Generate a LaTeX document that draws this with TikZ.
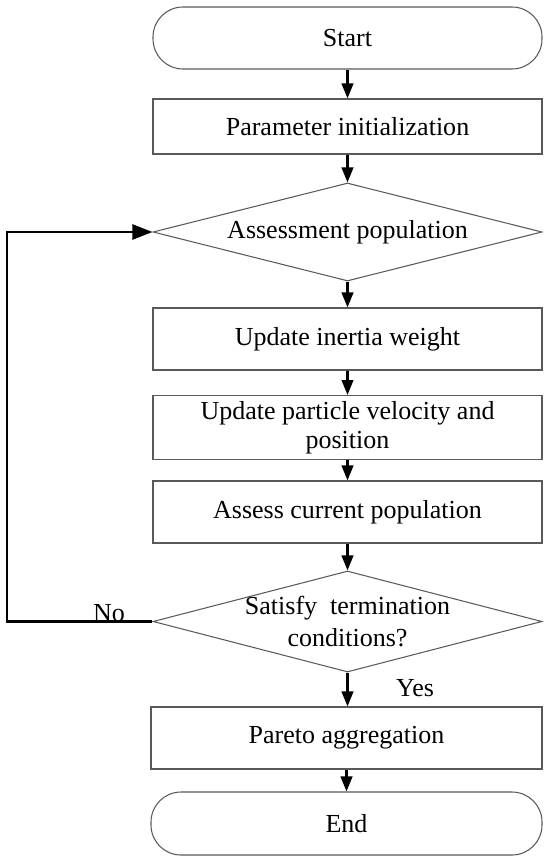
\documentclass[tikz,border=0pt]{standalone}
\usepackage{fontspec}
\setmainfont{Liberation Serif}
\usepackage{tikz}
\usetikzlibrary{arrows.meta,positioning,shapes.geometric}

\begin{document}
\begin{tikzpicture}[
  >={Triangle[length=0.3cm,width=0.23cm]},
  term/.style={draw=black!65, line width=0.6pt, rounded corners=0.6cm,
    minimum width=7.78cm, minimum height=1.24cm, font=\fontsize{14.8}{17}\selectfont},
  proc/.style={draw=black!65, line width=0.6pt, minimum width=7.78cm,
    minimum height=1.24cm, align=center, font=\fontsize{14.8}{16.3}\selectfont},
  decision/.style={draw=black!65, line width=0.6pt, diamond, inner sep=0pt,
    minimum width=7.78cm, minimum height=1.96cm},
  dtext/.style={align=center, font=\fontsize{14.8}{18.2}\selectfont},
  arr/.style={->, line width=1.4pt},
  back/.style={-{Triangle[length=0.4cm,width=0.3cm]}, line width=1.5pt},
  lbl/.style={font=\fontsize{14.8}{17}\selectfont, inner sep=0pt}
]
\useasboundingbox (0,0) rectangle (11,-17.24);

\node[term] (S) at (6.95,-0.76) {Start};
\node[proc, minimum height=1.1cm] (P) at (6.95,-2.53) {Parameter initialization};
\node[decision, label={[dtext]center:Assessment population}] (A) at (6.95,-4.64) {};
\node[proc] (W) at (6.95,-6.78) {Update inertia weight};
\node[proc, minimum height=1.22cm] (V) at (6.95,-8.55) {Update particle velocity and\\position};
\node[proc] (C) at (6.95,-10.24) {Assess current population};
\node[decision, minimum height=2.02cm,
  label={[dtext]center:Satisfy\ \ termination\\conditions?}] (T) at (6.95,-12.43) {};
\node[proc, minimum width=7.82cm] (G) at (6.93,-14.76) {Pareto aggregation};
\node[term, minimum width=7.82cm, minimum height=1.26cm] (E) at (6.93,-16.47) {End};

% main flow
\draw[arr] (S) -- (P);
\draw[arr] (P) -- (A);
\draw[arr] (A) -- (W);
\draw[arr] (W) -- (V);
\draw[arr] (V) -- (C);
\draw[arr] (C) -- (T);
\draw[arr] (T.south) -- (T.south |- G.north);
\draw[arr] (G.south -| E.north) -- (E);

% loop back
\coordinate (turn) at (0.14,-4.64);
\draw[back] (T.west) -| (turn) -- (A.west);

\node[lbl] (no) at (2.18,-12.26) {No};
\node[lbl] (yes) at (8.3,-13.76) {Yes};
\end{tikzpicture}
\end{document}
